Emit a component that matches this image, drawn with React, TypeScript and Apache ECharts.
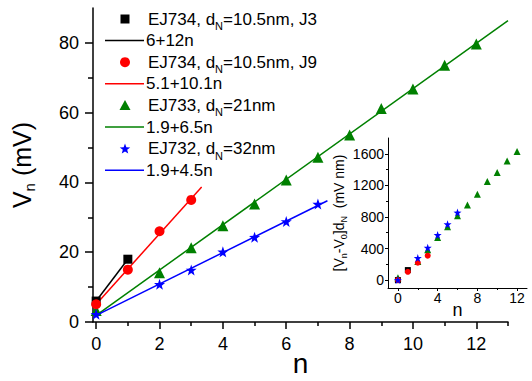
import React, { useEffect, useRef } from "react";
import * as echarts from "echarts";

const FONT = "'Liberation Sans', Arial, Helvetica, sans-serif";

// ---- main panel data (n, Vn in mV) ----
const nBlack = [0, 1];
const vBlack = [6, 18];
const nRed = [0, 1, 2, 3];
const vRed = [5.1, 15, 26, 35];
const nGreen = [0, 2, 3, 4, 5, 6, 7, 8, 9, 10, 11, 12];
const vGreen = [3.3, 14.1, 21.3, 27.6, 33.8, 40.7, 47.2, 53.6, 61.2, 66.8, 73.6, 79.7];
const nBlue = [0, 2, 3, 4, 5, 6, 7];
const vBlue = [2.2, 10.8, 14.9, 20.1, 24.3, 28.8, 33.8];

// fit line end points
const fitBlackN = [0, 1];
const fitBlackV = [6, 18];
const fitRedN = [0, 3.33];
const fitRedV = [5.1, 38.7];
const fitGreenN = [0, 13];
const fitGreenV = [1.9, 86.4];
const fitBlueN = [0, 7.3];
const fitBlueV = [1.9, 34.75];

// ---- inset data (n, [Vn-V0]dN in mV nm) ----
const inBlackN = [0, 1];
const inBlackV = [0, 127];
const inRedN = [0, 1, 2, 3];
const inRedV = [0, 105, 220, 309];
const inGreenN = [0, 2, 3, 4, 5, 6, 7, 8, 9, 10, 11, 12];
const inGreenV = [30, 235, 385, 540, 675, 815, 950, 1088, 1248, 1363, 1509, 1630];
const inBlueN = [0, 2, 3, 4, 5, 6];
const inBlueV = [0, 280, 410, 571, 707, 855];

// tick values
const mainXLabels = [0, 2, 4, 6, 8, 10, 12];
const mainXMinor = [1, 3, 5, 7, 9, 11, 13];
const mainYLabels = [0, 20, 40, 60, 80];
const mainYMinor = [10, 30, 50, 70];
const inXLabels = [0, 4, 8, 12];
const inXMinor = [2, 6, 10];
const inYLabels = [0, 400, 800, 1200, 1600];
const inYMinor = [200, 600, 1000, 1400];

// legend
const legendLabels = [
  "EJ734, d{s|N}=10.5nm, J3",
  "6+12n",
  "EJ734, d{s|N}=10.5nm, J9",
  "5.1+10.1n",
  "EJ733, d{s|N}=21nm",
  "1.9+6.5n",
  "EJ732, d{s|N}=32nm",
  "1.9+4.5n",
];

const BLACK = "#000000";
const RED = "#ff0000";
const GREEN = "#008000";
const BLUE = "#0000ff";

const STAR =
  "path://M0,-10L2.35,-3.24L9.51,-3.09L3.8,1.24L5.88,8.09L0,4L-5.88,8.09L-3.8,1.24L-9.51,-3.09L-2.35,-3.24Z";

const zip = (a: number[], b: number[]) => a.map((x, i) => [x, b[i]]);

export default function App() {
  const ref = useRef<HTMLDivElement>(null);
  useEffect(() => {
    if (!ref.current) return;
    const chart = echarts.init(ref.current, undefined, { renderer: "svg" });

    const subRich = {
      s: { fontSize: 11, fontFamily: FONT, color: BLACK, padding: [14, 0, 0, 0] },
    };
    const plain = (v: number) => String(v);

    const mkX = (
      gridIndex: number,
      min: number,
      max: number,
      labels: number[],
      minor: number[],
      opts: any
    ) => [
      {
        type: "value",
        gridIndex,
        min,
        max,
        position: "bottom",
        axisLine: { show: true, onZero: false, lineStyle: { color: BLACK, width: opts.lw } },
        axisTick: { show: true, customValues: labels, length: opts.tl, lineStyle: { color: BLACK, width: opts.lw } },
        axisLabel: {
          show: true,
          customValues: labels,
          formatter: plain,
          margin: opts.lm,
          fontSize: opts.fs,
          fontFamily: FONT,
          color: BLACK,
        },
        splitLine: { show: false },
        name: opts.name,
        nameLocation: "middle",
        nameGap: opts.ng,
        nameMoveOverlap: false,
        nameTextStyle: { fontSize: opts.nfs, fontFamily: FONT, color: BLACK },
      },
      {
        type: "value",
        gridIndex,
        min,
        max,
        position: "bottom",
        axisLine: { show: false, onZero: false },
        axisTick: { show: true, customValues: minor, length: opts.mtl, lineStyle: { color: BLACK, width: opts.lw } },
        axisLabel: { show: false },
        splitLine: { show: false },
      },
    ];

    const mkY = (
      gridIndex: number,
      min: number,
      max: number,
      labels: number[],
      minor: number[],
      opts: any
    ) => [
      {
        type: "value",
        gridIndex,
        min,
        max,
        position: "left",
        axisLine: { show: true, onZero: false, lineStyle: { color: BLACK, width: opts.lw } },
        axisTick: { show: true, customValues: labels, length: opts.tl, lineStyle: { color: BLACK, width: opts.lw } },
        axisLabel: {
          show: true,
          customValues: labels,
          formatter: plain,
          margin: opts.lm,
          fontSize: opts.fs,
          fontFamily: FONT,
          color: BLACK,
        },
        splitLine: { show: false },
        name: opts.name,
        nameLocation: "middle",
        nameGap: opts.ng,
        nameMoveOverlap: false,
        nameRotate: 90,
        nameTextStyle: { fontSize: opts.nfs, fontFamily: FONT, color: BLACK, rich: opts.rich },
      },
      {
        type: "value",
        gridIndex,
        min,
        max,
        position: "left",
        axisLine: { show: false, onZero: false },
        axisTick: { show: true, customValues: minor, length: opts.mtl, lineStyle: { color: BLACK, width: opts.lw } },
        axisLabel: { show: false },
        splitLine: { show: false },
      },
    ];

    const xAxes = [
      ...mkX(0, -0.1, 13, mainXLabels, mainXMinor, {
        lw: 1.5, tl: 7, mtl: 4, lm: 13, fs: 18, name: "n", ng: 27, nfs: 28,
      }),
      ...mkX(1, -1, 13, inXLabels, inXMinor, {
        lw: 1, tl: 3, mtl: 2, lm: 3, fs: 14, name: "n", ng: 13, nfs: 18,
      }),
    ];
    const yAxes = [
      ...mkY(0, 0, 90, mainYLabels, mainYMinor, {
        lw: 1.5, tl: 8, mtl: 5, lm: 14, fs: 18, name: "V{sn|n} (mV)", ng: 56, nfs: 25,
        rich: {
          sn: { fontSize: 15, fontFamily: FONT, color: BLACK, padding: [16, 0, 0, 0] },
        },
      }),
      ...mkY(1, -100, 1800, inYLabels, inYMinor, {
        lw: 1, tl: 3, mtl: 2, lm: 4, fs: 14,
        name: "[V{s|n}-V{s|0}]d{s|N}  (mV nm)", ng: 40, nfs: 14,
        rich: {
          s: { fontSize: 9, fontFamily: FONT, color: BLACK, padding: [10, 0, 0, 0] },
        },
      }),
    ];

    const scatter = (
      name: string,
      xi: number,
      yi: number,
      data: number[][],
      symbol: string,
      size: number,
      color: string,
      z: number
    ) => ({
      name,
      type: "scatter",
      xAxisIndex: xi,
      yAxisIndex: yi,
      data,
      symbol,
      symbolSize: size,
      itemStyle: { color, opacity: 1 },
      z,
      silent: true,
    });
    const fitLine = (name: string, data: number[][], color: string) => ({
      name,
      type: "line",
      xAxisIndex: 0,
      yAxisIndex: 0,
      data,
      showSymbol: false,
      symbol: "none",
      lineStyle: { color, width: 1.5 },
      z: 2,
      silent: true,
    });

    const series: any[] = [
      fitLine("6+12n", zip(fitBlackN, fitBlackV), BLACK),
      fitLine("5.1+10.1n", zip(fitRedN, fitRedV), RED),
      fitLine("1.9+6.5n", zip(fitGreenN, fitGreenV), GREEN),
      fitLine("1.9+4.5n", zip(fitBlueN, fitBlueV), BLUE),
      scatter("EJ734 J3", 0, 0, zip(nBlack, vBlack), "rect", 9, BLACK, 3),
      scatter("EJ734 J9", 0, 0, zip(nRed, vRed), "circle", 10, RED, 4),
      scatter("EJ733", 0, 0, zip(nGreen, vGreen), "triangle", 11, GREEN, 3),
      scatter("EJ732", 0, 0, zip(nBlue, vBlue), STAR, 11, BLUE, 5),
      scatter("in EJ733", 2, 2, zip(inGreenN, inGreenV), "triangle", 7, GREEN, 3),
      scatter("in EJ734 J3", 2, 2, zip(inBlackN, inBlackV), "rect", 6, BLACK, 3),
      scatter("in EJ734 J9", 2, 2, zip(inRedN, inRedV), "circle", 6, RED, 4),
      scatter("in EJ732", 2, 2, zip(inBlueN, inBlueV), STAR, 8, BLUE, 5),
    ];

    // legend as graphic elements
    const rowY = (i: number) => 19 + 21.6 * i;
    const graphics: any[] = [];
    const mx = 125;
    const markerColors = [BLACK, RED, GREEN, BLUE];
    const lineColors = [BLACK, RED, GREEN, BLUE];
    for (let k = 0; k < 4; k++) {
      const ym = rowY(2 * k);
      const yl = rowY(2 * k + 1);
      const c = markerColors[k];
      if (k === 0) {
        graphics.push({ type: "rect", shape: { x: mx - 4.5, y: ym - 4.5, width: 9, height: 9 }, style: { fill: c } });
      } else if (k === 1) {
        graphics.push({ type: "circle", shape: { cx: mx, cy: ym, r: 5 }, style: { fill: c } });
      } else if (k === 2) {
        graphics.push({
          type: "polygon",
          shape: { points: [[mx, ym - 5.5], [mx + 5.5, ym + 4.5], [mx - 5.5, ym + 4.5]] },
          style: { fill: c },
        });
      } else {
        const pts: number[][] = [];
        for (let j = 0; j < 10; j++) {
          const r = j % 2 === 0 ? 5.5 : 2.3;
          const a = -Math.PI / 2 + (j * Math.PI) / 5;
          pts.push([mx + r * Math.cos(a), ym + 0.5 + r * Math.sin(a)]);
        }
        graphics.push({ type: "polygon", shape: { points: pts }, style: { fill: c } });
      }
      graphics.push({
        type: "line",
        shape: { x1: 105, y1: yl, x2: 144, y2: yl },
        style: { stroke: lineColors[k], lineWidth: 1.5 },
      });
      graphics.push({
        type: "text",
        x: 148,
        y: ym,
        style: {
          text: legendLabels[2 * k],
          fontSize: 17,
          fontFamily: FONT,
          fill: BLACK,
          verticalAlign: "middle",
          align: "left",
          rich: subRich,
        },
      });
      graphics.push({
        type: "text",
        x: 146,
        y: yl,
        style: {
          text: legendLabels[2 * k + 1],
          fontSize: 17,
          fontFamily: FONT,
          fill: BLACK,
          verticalAlign: "middle",
          align: "left",
        },
      });
    }

    chart.setOption({
      animation: false,
      backgroundColor: "#ffffff",
      grid: [
        { left: 93, top: 8, width: 415, height: 314, containLabel: false, outerBoundsMode: "none" },
        { left: 388, top: 138, width: 139, height: 150, containLabel: false, outerBoundsMode: "none" },
      ],
      xAxis: xAxes,
      yAxis: yAxes,
      series,
      graphic: graphics,
    });

    return () => chart.dispose();
  }, []);

  return <div ref={ref} style={{ width: 532, height: 381, position: "absolute", left: 0, top: 0 }} />;
}
